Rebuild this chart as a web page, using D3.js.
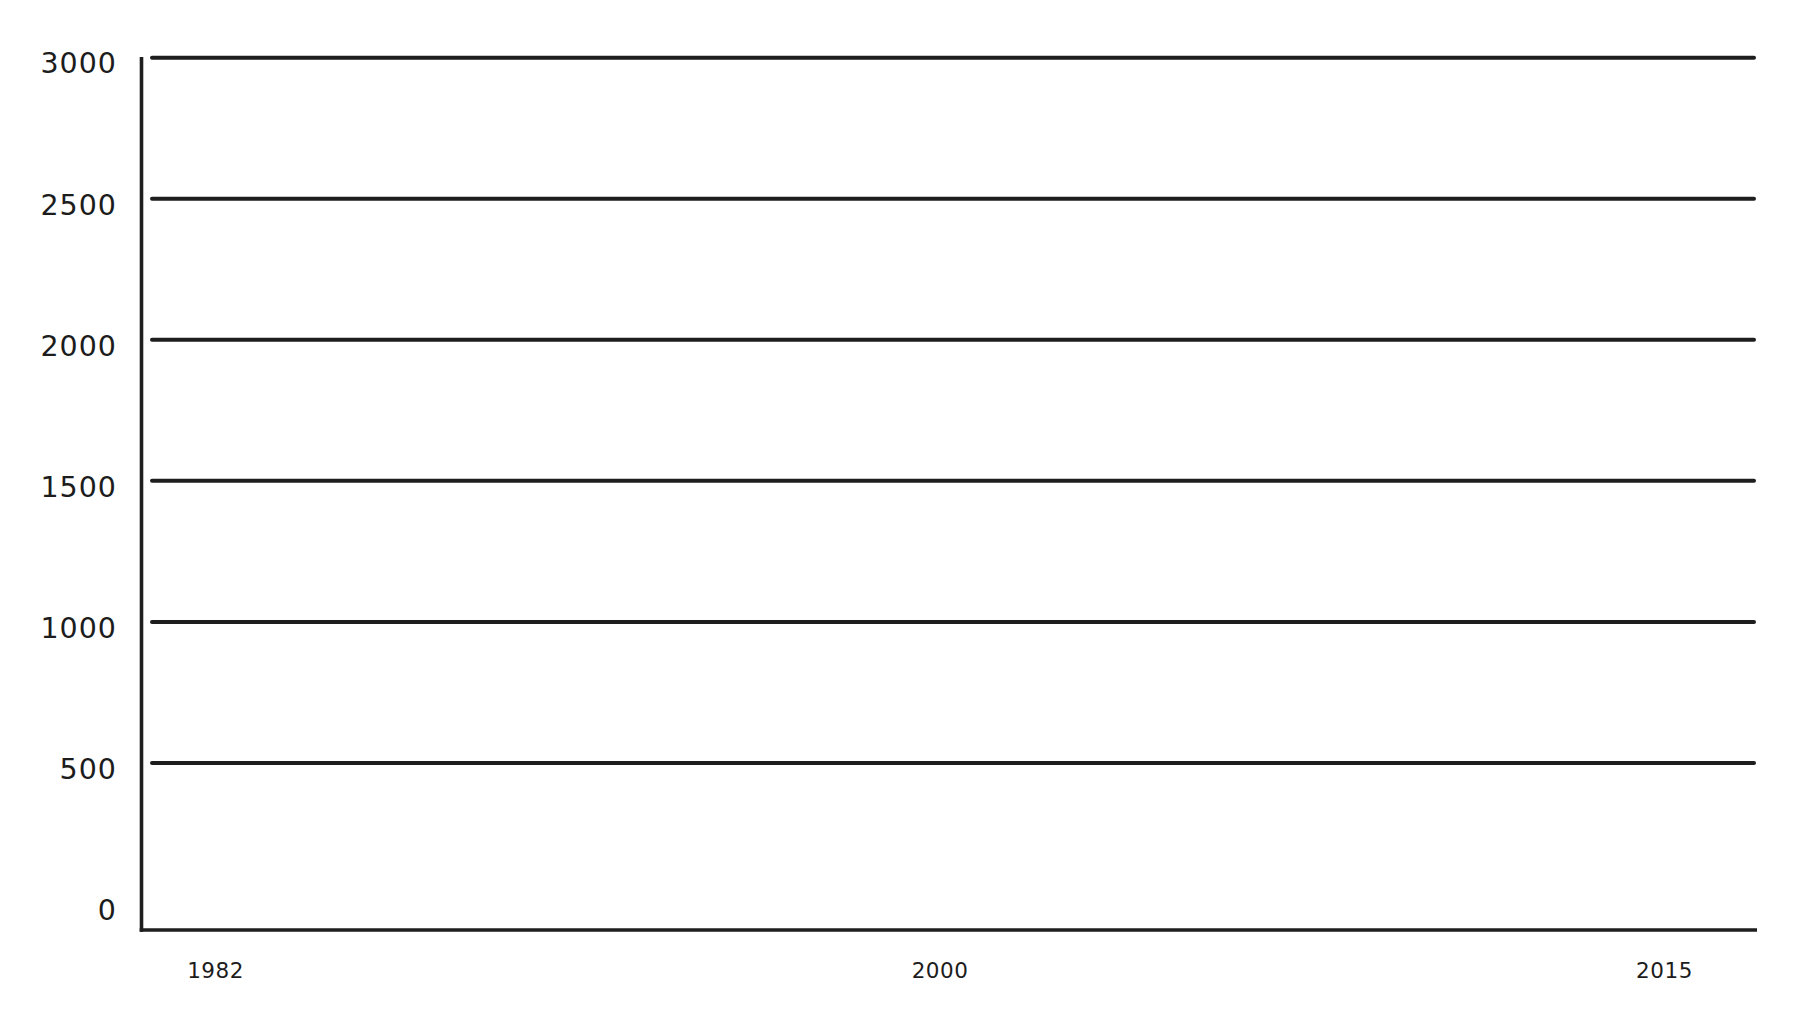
<!DOCTYPE html>
<html>
<head>
<meta charset="utf-8">
<script src="https://cdn.jsdelivr.net/npm/d3@7"></script>
<style>
  html, body { margin: 0; padding: 0; background: #ffffff; }
  svg { display: block; }
  text { font-family: "DejaVu Sans", sans-serif; fill: #1c1c1c; }
</style>
</head>
<body>
<script>
// ---- data ----
const years = ["1982", "2000", "2015"];
const yTicks = [0, 500, 1000, 1500, 2000, 2500, 3000];
const series = []; // the reference shows no plotted values

// ---- layout ----
const W = 1800, H = 1015;
const axisX = 141.5, axisBottom = 930, axisTop = 57;
const plotRight = 1757;
const ink = "#1e1e1e";

const svg = d3.select("body").append("svg")
  .attr("width", W).attr("height", H);

const y = d3.scaleLinear().domain([0, 3000]).range([909, 62.7]);
const x = d3.scalePoint().domain(years).range([127, 1752]).padding(0.1215);

// gridlines (non-zero ticks)
svg.append("g").selectAll("line")
  .data(yTicks.filter(d => d > 0))
  .join("line")
  .attr("x1", 152).attr("x2", 1754)
  .attr("y1", d => y(d) - 5).attr("y2", d => y(d) - 5)
  .attr("stroke", ink).attr("stroke-width", 4)
  .attr("stroke-linecap", "round");

// y axis labels via d3 axis
const yAxis = svg.append("g")
  .attr("transform", "translate(117,0)")
  .call(d3.axisLeft(y).tickValues(yTicks).tickSize(0).tickPadding(0).tickFormat(d3.format("d")));
yAxis.select(".domain").remove();
yAxis.selectAll("text")
  .attr("font-size", 28.5)
  .attr("letter-spacing", "1px")
  .attr("font-family", "DejaVu Sans, sans-serif")
  .attr("fill", ink)
  .attr("dy", "0.36em");

// vertical axis line
svg.append("line")
  .attr("x1", axisX).attr("x2", axisX)
  .attr("y1", axisTop).attr("y2", axisBottom + 1.8)
  .attr("stroke", ink).attr("stroke-width", 3.6);

// horizontal axis line
svg.append("line")
  .attr("x1", axisX - 1.8).attr("x2", plotRight)
  .attr("y1", axisBottom).attr("y2", axisBottom)
  .attr("stroke", ink).attr("stroke-width", 3.6);

// x axis labels via d3 axis
const xAxis = svg.append("g")
  .attr("transform", `translate(0,${axisBottom})`)
  .call(d3.axisBottom(x).tickSize(0).tickPadding(0));
xAxis.select(".domain").remove();
xAxis.selectAll("text")
  .attr("font-size", 21.5)
  .attr("letter-spacing", "0.5px")
  .attr("font-family", "DejaVu Sans, sans-serif")
  .attr("fill", ink)
  .attr("dy", "2.25em");
</script>
</body>
</html>
